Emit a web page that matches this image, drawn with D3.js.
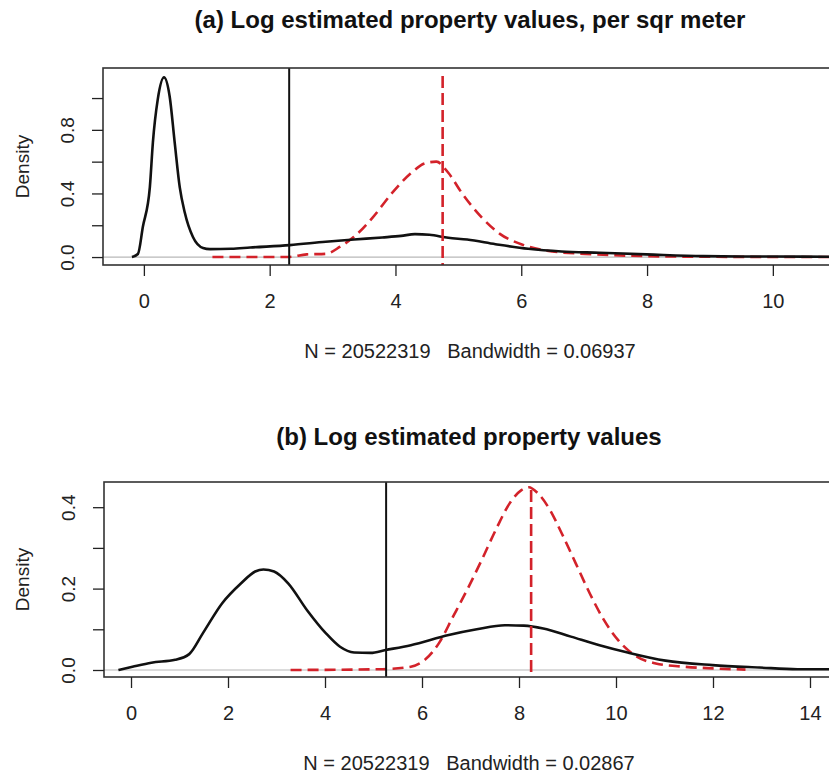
<!DOCTYPE html>
<html>
<head>
<meta charset="utf-8">
<script src="https://cdn.jsdelivr.net/npm/d3@7"></script>
<style>
  body { margin: 0; background: #fff; }
  svg { display: block; font-family: "Liberation Sans", Arial, sans-serif; }
</style>
</head>
<body>
<svg id="chart" width="829" height="774"></svg>
<script>
// panel (a): log values per sqr meter
const aBlackX = [-0.19, -0.095, -0.016, 0.095, 0.143, 0.22, 0.32, 0.41, 0.49, 0.57, 0.65, 0.78, 0.94, 1.05, 1.39, 1.69, 2.32, 2.89, 3.34, 3.79, 4.09, 4.31, 4.54, 4.84, 5.14, 5.59, 6.11, 6.64, 7.24, 7.99, 8.89, 10.0, 11.0];
const aBlackY = [0.0, 0.019, 0.19, 0.44, 0.72, 0.99, 1.13, 1.01, 0.72, 0.44, 0.28, 0.126, 0.057, 0.05, 0.052, 0.06, 0.075, 0.096, 0.11, 0.123, 0.133, 0.144, 0.14, 0.121, 0.11, 0.081, 0.052, 0.035, 0.027, 0.017, 0.006, 0.003, 0.002];
const aRedX = [1.09, 2.29, 2.59, 2.89, 3.12, 3.34, 3.64, 3.94, 4.24, 4.47, 4.65, 4.84, 5.06, 5.37, 5.66, 6.04, 6.41, 7.01, 7.76, 8.89, 11.0];
const aRedY = [0.0, 0.0, 0.017, 0.02, 0.065, 0.127, 0.25, 0.4, 0.525, 0.59, 0.6, 0.53, 0.4, 0.25, 0.146, 0.075, 0.04, 0.02, 0.008, 0.002, 0.0];
const aVLineBlack = 2.31;
const aVLineRed = 4.75;

// panel (b): log values
const bBlackX = [-0.26, 0.03, 0.42, 0.91, 1.2, 1.48, 1.88, 2.27, 2.56, 2.73, 2.95, 3.24, 3.63, 4.02, 4.31, 4.6, 4.94, 5.25, 5.77, 6.55, 7.13, 7.71, 8.1, 8.5, 9.07, 9.66, 10.24, 11.02, 11.99, 12.96, 13.74, 14.5];
const bBlackY = [0.0, 0.008, 0.018, 0.025, 0.039, 0.09, 0.164, 0.213, 0.242, 0.247, 0.242, 0.213, 0.147, 0.09, 0.057, 0.043, 0.042, 0.049, 0.061, 0.086, 0.1, 0.11, 0.109, 0.102, 0.082, 0.061, 0.043, 0.023, 0.012, 0.006, 0.002, 0.002];
const bRedX = [3.29, 5.19, 5.77, 6.06, 6.35, 6.64, 6.93, 7.23, 7.52, 7.81, 8.05, 8.2, 8.39, 8.64, 8.88, 9.17, 9.46, 9.75, 10.04, 10.43, 10.82, 11.4, 11.99, 12.67];
const bRedY = [0.0, 0.002, 0.008, 0.025, 0.066, 0.131, 0.197, 0.27, 0.344, 0.41, 0.442, 0.449, 0.434, 0.393, 0.336, 0.262, 0.188, 0.123, 0.074, 0.033, 0.016, 0.008, 0.004, 0.001];
const bVLineBlack = 5.26;
const bVLineRed = 8.25;

const aXTicks = [0, 2, 4, 6, 8, 10];
const aYTicks = [0, 0.2, 0.4, 0.6, 0.8, 1.0];
const aYLabels = [0, 0.4, 0.8];
const bXTicks = [0, 2, 4, 6, 8, 10, 12, 14];
const bYTicks = [0, 0.1, 0.2, 0.3, 0.4];
const bYLabels = [0, 0.2, 0.4];

const titles = ["(a) Log estimated property values, per sqr meter", "(b) Log estimated property values"];
const notes = ["N = 20522319   Bandwidth = 0.06937", "N = 20522319   Bandwidth = 0.02867"];

const RED = "#d3222a";
const svg = d3.select("#chart");

const drawPanel = (p) => {
    const g = svg.append("g");
    const x = d3.scaleLinear().domain(p.xDom).range([p.left, p.right]);
    const y = d3.scaleLinear().domain(p.yDom).range([p.bottom, p.top]);

    const clipId = "clip" + p.id;
    g.append("clipPath").attr("id", clipId)
        .append("rect")
        .attr("x", p.left).attr("y", p.top)
        .attr("width", p.right - p.left).attr("height", p.bottom - p.top);

    const plot = g.append("g").attr("clip-path", `url(#${clipId})`);

    // zero line
    plot.append("line")
        .attr("x1", p.left).attr("x2", p.right)
        .attr("y1", y(0)).attr("y2", y(0))
        .attr("stroke", "#b8b8b8").attr("stroke-width", 1.2);

    const line = d3.line()
        .x(d => x(d[0]))
        .y(d => y(d[1]))
        .curve(d3.curveMonotoneX);

    plot.append("path")
        .datum(d3.zip(p.redX, p.redY))
        .attr("fill", "none")
        .attr("stroke", RED)
        .attr("stroke-width", 2.6)
        .attr("stroke-dasharray", "11,6")
        .attr("d", line);

    plot.append("path")
        .datum(d3.zip(p.blackX, p.blackY))
        .attr("fill", "none")
        .attr("stroke", "#111")
        .attr("stroke-width", 2.6)
        .attr("stroke-linejoin", "round")
        .attr("d", line);

    plot.append("line")
        .attr("x1", x(p.vBlack)).attr("x2", x(p.vBlack))
        .attr("y1", p.top).attr("y2", p.bottom)
        .attr("stroke", "#111").attr("stroke-width", 2);

    plot.append("line")
        .attr("x1", x(p.vRed)).attr("x2", x(p.vRed))
        .attr("y1", p.top + 8).attr("y2", p.bottom)
        .attr("stroke", RED).attr("stroke-width", 2.6)
        .attr("stroke-dasharray", "12,5");

    // frame
    g.append("rect")
        .attr("x", p.left).attr("y", p.top)
        .attr("width", p.right - p.left).attr("height", p.bottom - p.top)
        .attr("fill", "none").attr("stroke", "#333").attr("stroke-width", 1.6);

    // x axis
    const xa = g.append("g")
        .attr("transform", `translate(0,${p.bottom})`)
        .call(d3.axisBottom(x).tickValues(p.xTicks).tickSize(11).tickSizeOuter(0).tickFormat(d3.format("d")));
    xa.select(".domain").remove();
    xa.selectAll("line").attr("stroke", "#222").attr("stroke-width", 1.3);
    xa.selectAll("text")
        .attr("y", 36).attr("dy", "0.35em")
        .attr("font-size", 20).attr("fill", "#222")
        .attr("font-family", "Liberation Sans, Arial, sans-serif");

    // y axis
    const ya = g.append("g")
        .attr("transform", `translate(${p.left},0)`)
        .call(d3.axisLeft(y).tickValues(p.yTicks).tickSize(11).tickSizeOuter(0)
            .tickFormat(d => p.yLabels.some(v => Math.abs(v - d) < 1e-9) ? d3.format(".1f")(d) : ""));
    ya.select(".domain").remove();
    ya.selectAll("line").attr("stroke", "#222").attr("stroke-width", 1.3);
    ya.selectAll("text")
        .attr("transform", "rotate(-90)")
        .attr("x", 0).attr("y", -36).attr("dy", "0.35em")
        .attr("text-anchor", "middle")
        .attr("font-size", 19).attr("fill", "#222")
        .attr("font-family", "Liberation Sans, Arial, sans-serif");

    const cx = (p.left + p.right) / 2;
    g.append("text")
        .attr("transform", `translate(22,${(p.top + p.bottom) / 2}) rotate(-90)`)
        .attr("text-anchor", "middle").attr("dy", "0.35em")
        .attr("font-size", 19).attr("fill", "#222")
        .text("Density");

    g.append("text")
        .attr("x", cx).attr("y", p.titleY)
        .attr("text-anchor", "middle").attr("dy", "0.35em")
        .attr("font-size", 24).attr("font-weight", "bold").attr("fill", "#111")
        .text(p.title);

    g.append("text")
        .attr("x", cx).attr("y", p.bottom + 86)
        .attr("text-anchor", "middle").attr("dy", "0.35em")
        .attr("font-size", 20).attr("fill", "#222")
        .attr("xml:space", "preserve")
        .style("white-space", "pre")
        .text(p.note);
};

drawPanel({
    id: "a", left: 103, right: 837, top: 68, bottom: 265,
    xDom: [-0.65, 11.02], yDom: [-0.05, 1.189],
    blackX: aBlackX, blackY: aBlackY, redX: aRedX, redY: aRedY,
    vBlack: aVLineBlack, vRed: aVLineRed,
    xTicks: aXTicks, yTicks: aYTicks, yLabels: aYLabels,
    title: titles[0], note: notes[0], titleY: 20
});

drawPanel({
    id: "b", left: 104, right: 834, top: 482, bottom: 677,
    xDom: [-0.557, 14.495], yDom: [-0.0172, 0.4619],
    blackX: bBlackX, blackY: bBlackY, redX: bRedX, redY: bRedY,
    vBlack: bVLineBlack, vRed: bVLineRed,
    xTicks: bXTicks, yTicks: bYTicks, yLabels: bYLabels,
    title: titles[1], note: notes[1], titleY: 437
});
</script>
</body>
</html>
